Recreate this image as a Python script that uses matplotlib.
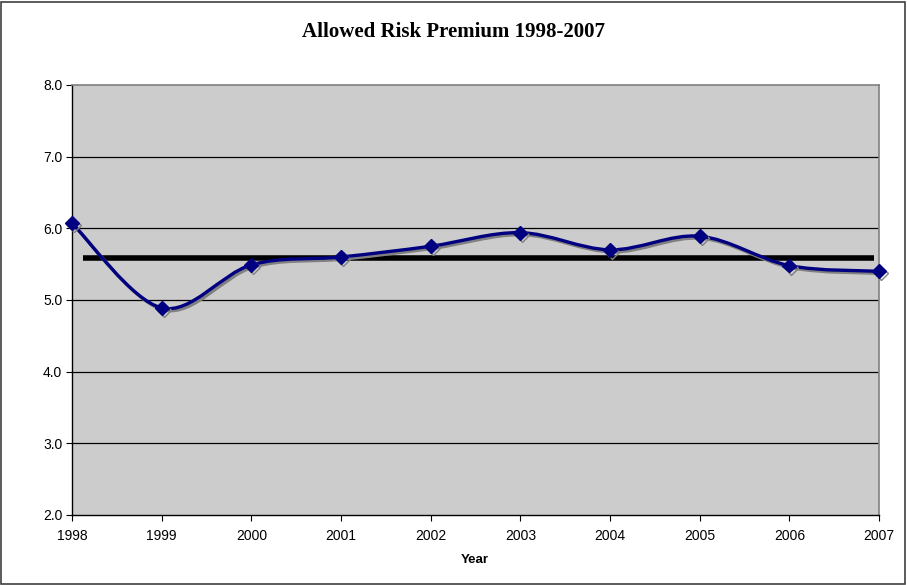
import matplotlib
matplotlib.use("Agg")
import matplotlib.pyplot as plt
import matplotlib.patheffects as pe
from matplotlib.path import Path
from matplotlib.patches import PathPatch, Rectangle
import numpy as np

years = [1998, 1999, 2000, 2001, 2002, 2003, 2004, 2005, 2006, 2007]
premium = [6.07, 4.89, 5.49, 5.60, 5.75, 5.94, 5.70, 5.89, 5.48, 5.40]
average = 5.59
avg_start, avg_end = 1998.12, 2006.94
yticks = [2.0, 3.0, 4.0, 5.0, 6.0, 7.0, 8.0]

fig = plt.figure(figsize=(9.07, 5.85), dpi=100)
fig.patches.append(Rectangle((0.001, 0.002), 0.997, 0.995, transform=fig.transFigure,
                             fill=False, edgecolor='#404040', linewidth=1.2))
ax = fig.add_axes([72/907, 1-515/585, (879-72)/907, (515-85)/585])
ax.set_facecolor('#cccccc')
ax.set_xlim(1998, 2007)
ax.set_ylim(2.0, 8.0)
ax.set_yticks(yticks)
ax.set_yticklabels([f"{v:.1f}" for v in yticks])
ax.set_xticks(years)
ax.set_xticklabels([str(y) for y in years])
for v in yticks[1:-1]:
    ax.axhline(v, color='black', linewidth=0.9, zorder=1)

for s in ['top', 'right']:
    ax.spines[s].set_color('#808080')
    ax.spines[s].set_linewidth(1.2)
for s in ['left', 'bottom']:
    ax.spines[s].set_color('black')
    ax.spines[s].set_linewidth(1.0)
ax.tick_params(axis='both', direction='out', length=4, width=0.8,
               labelsize=10, colors='black')
ax.tick_params(axis='x', pad=6)
ax.tick_params(axis='y', pad=3)
for lab in ax.get_xticklabels() + ax.get_yticklabels():
    lab.set_fontfamily('Liberation Sans')

# average line
ax.hlines(average, avg_start, avg_end, color='black', linewidth=4.0, zorder=3)

# smoothed curve (Excel-style Bezier smoothing)
x = np.array(years, dtype=float)
y = np.array(premium, dtype=float)
verts = [(x[0], y[0])]
codes = [Path.MOVETO]
n = len(x)
for i in range(n - 1):
    p0 = (x[i-1], y[i-1]) if i > 0 else (x[i], y[i])
    p1 = (x[i], y[i])
    p2 = (x[i+1], y[i+1])
    p3 = (x[i+2], y[i+2]) if i + 2 < n else (x[i+1], y[i+1])
    c1 = (p1[0] + (p2[0]-p0[0])/6, p1[1] + (p2[1]-p0[1])/6)
    c2 = (p2[0] - (p3[0]-p1[0])/6, p2[1] - (p3[1]-p1[1])/6)
    verts += [c1, c2, p2]
    codes += [Path.CURVE4]*3
path = Path(verts, codes)
patch = PathPatch(path, facecolor='none', edgecolor='#000080', linewidth=2.4, zorder=4,
                  path_effects=[pe.SimpleLineShadow(offset=(1.5, -1.5), shadow_color='#808080', alpha=1.0),
                                pe.Normal()])
ax.add_patch(patch)
ax.plot(years, premium, linestyle='none', marker='D', markersize=7, color='#000080', zorder=5,
        clip_on=False,
        path_effects=[pe.SimpleLineShadow(offset=(1.5, -1.5), shadow_color='#808080', alpha=1.0),
                      pe.Normal()])

fig.text(0.5, 1-32/585, 'Allowed Risk Premium 1998-2007', ha='center', va='center',
         fontsize=15, fontweight='bold', family='Liberation Serif')
fig.text(474.5/907, 1-560/585, 'Year', ha='center', va='center',
         fontsize=9.5, fontweight='bold', family='Liberation Sans')

fig.savefig('out.png', dpi=100)
